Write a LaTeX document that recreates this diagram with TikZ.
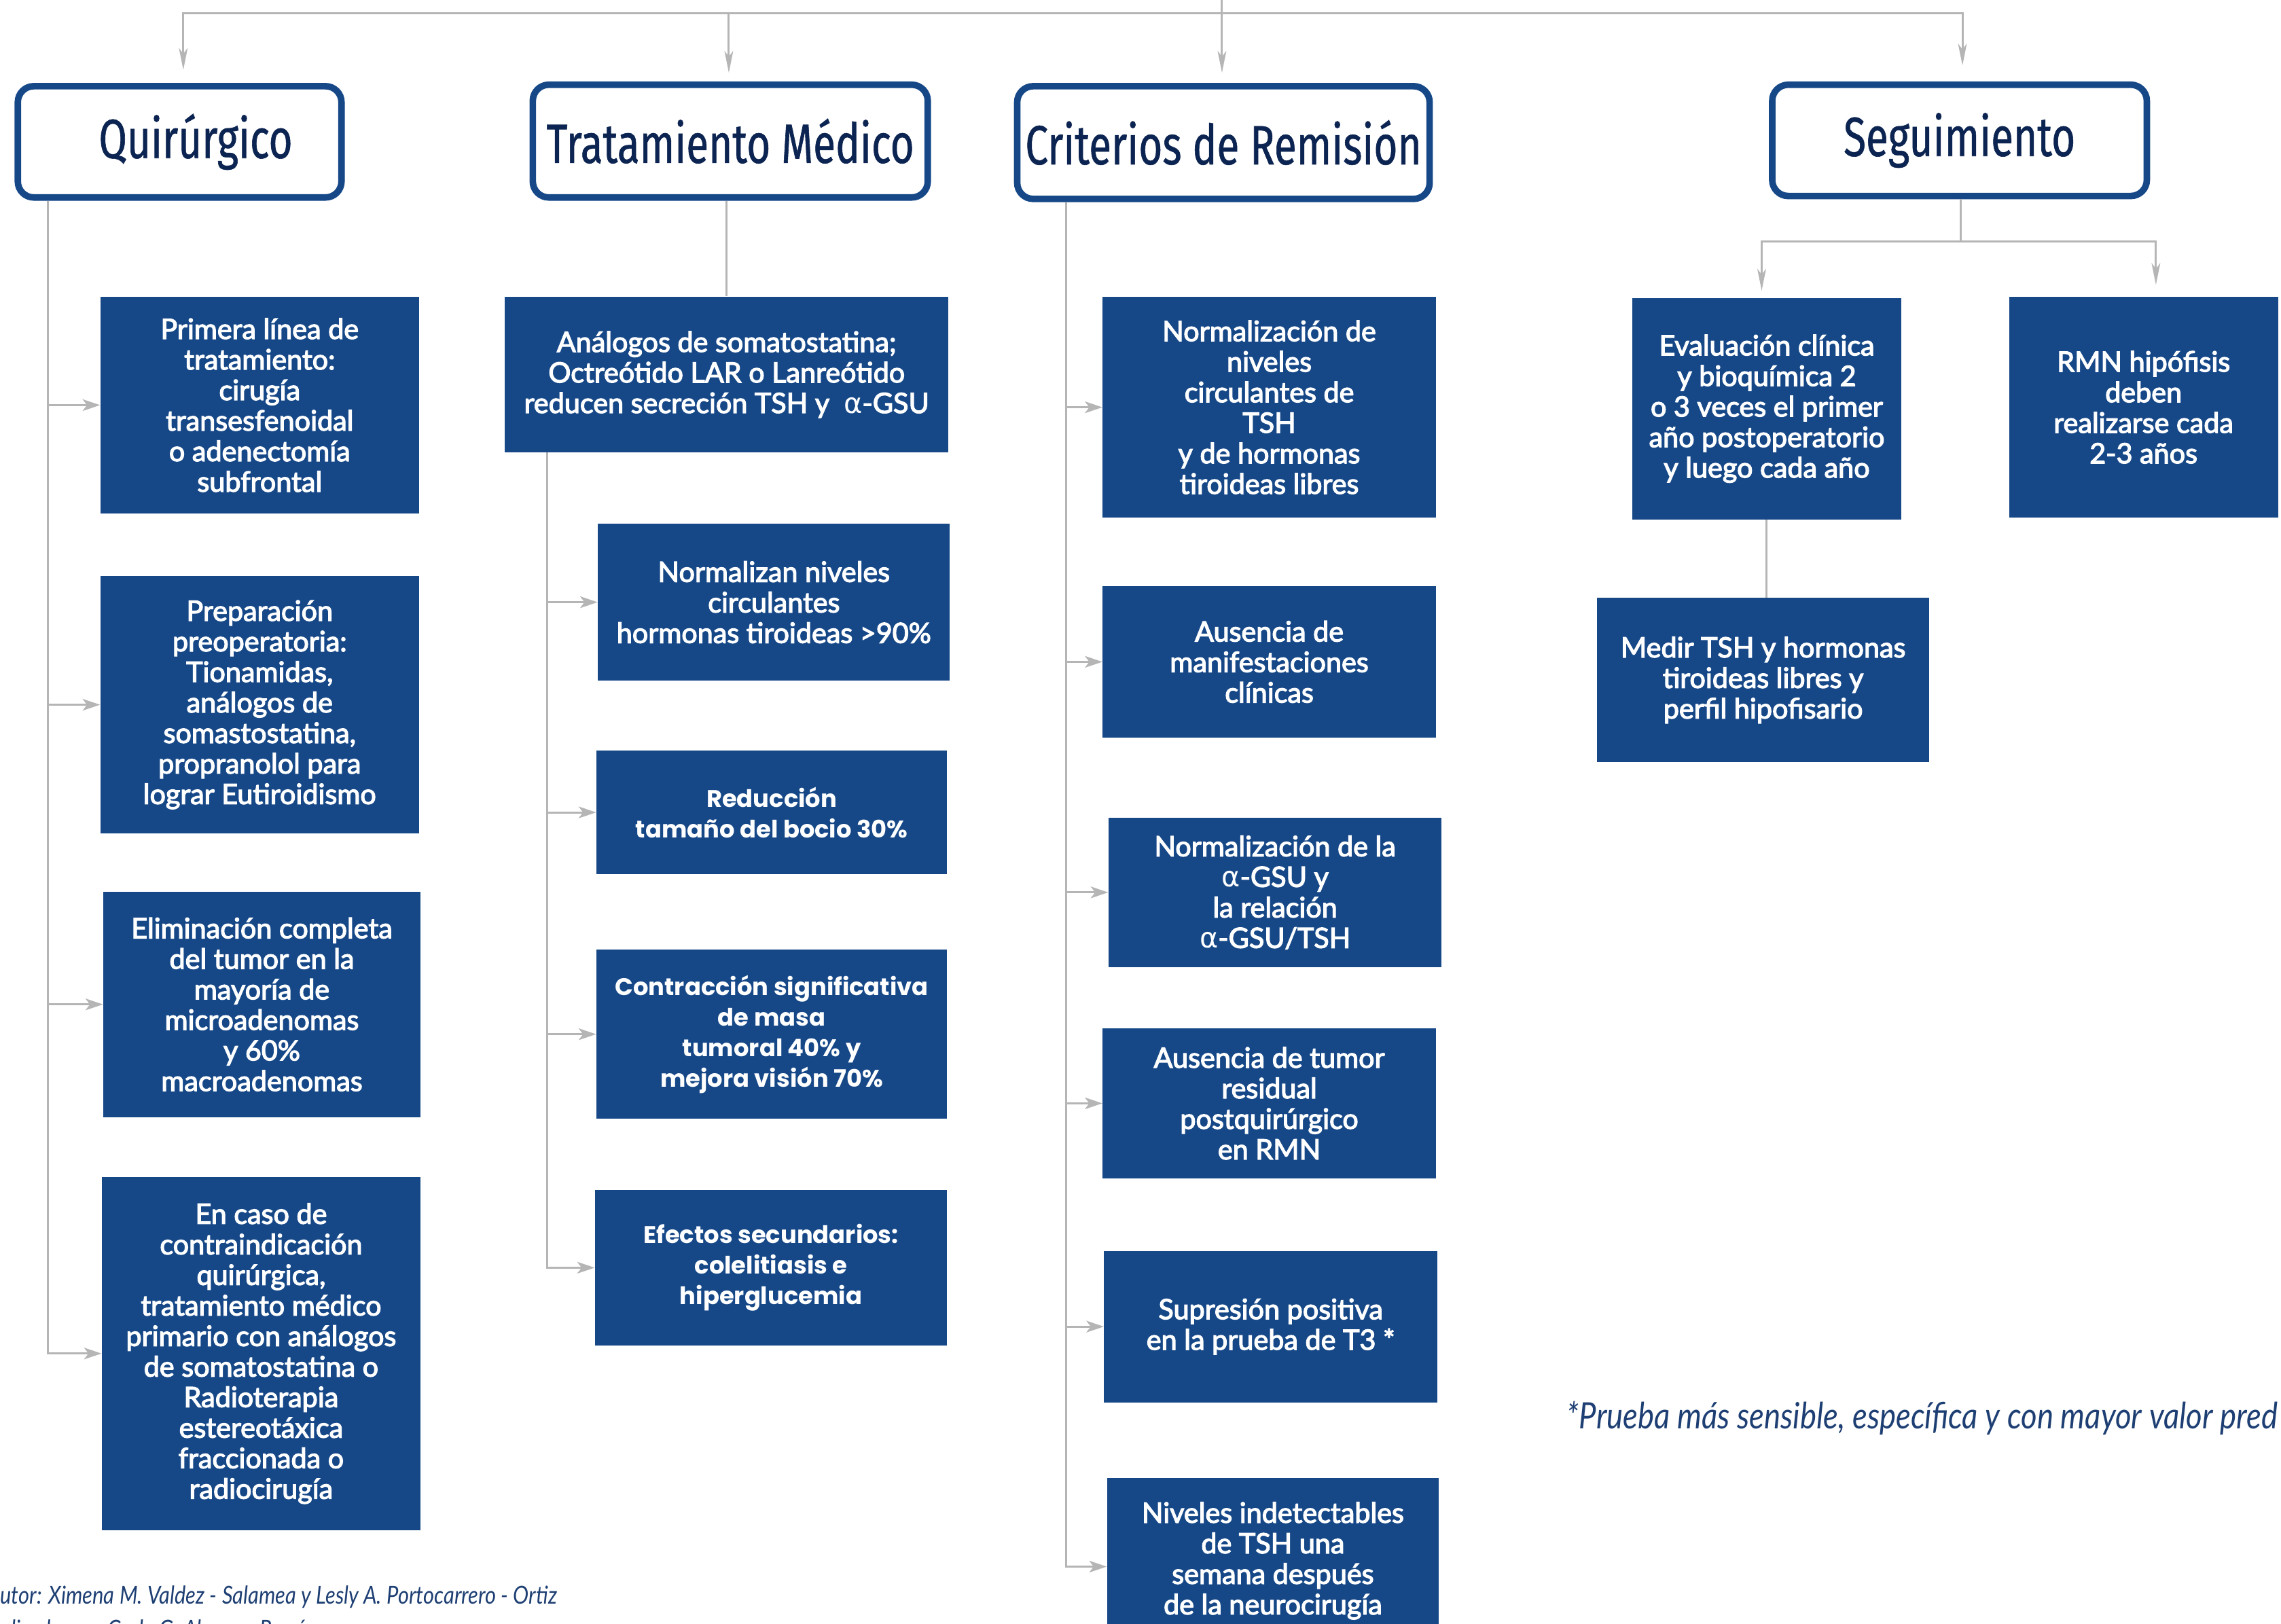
\documentclass[tikz,border=0pt]{standalone}
\usepackage{fontspec}
\usetikzlibrary{arrows.meta}
\setmainfont{Lato}
\newfontfamily\boxfont[FakeBold=3]{Lato}
\newfontfamily\headfont[FakeStretch=0.74,FakeBold=0.7]{Fira Sans}
\newfontfamily\wideboxfont{Poppins}
\newfontfamily\notefont[FakeStretch=0.85]{Lato}
\newfontfamily\greekfont{DejaVu Sans}
\definecolor{boxblue}{RGB}{22,72,136}
\definecolor{headtext}{RGB}{12,36,81}
\definecolor{conngray}{RGB}{181,181,181}
\definecolor{notecol}{RGB}{30,63,115}
\newcommand{\alf}{{\greekfont\mdseries α}}
\tikzset{
  header/.style={draw=boxblue, line width=4.5pt, rounded corners=11pt, fill=white,
    text=headtext, font=\headfont\fontsize{38pt}{42pt}\selectfont, inner sep=0pt},
  bluebox/.style={fill=boxblue, text=white, align=center, inner sep=0pt,
    font=\boxfont\fontsize{19.3pt}{21pt}\selectfont},
  widebox/.style={bluebox, font=\wideboxfont\bfseries\fontsize{16.5pt}{21pt}\selectfont},
  conn/.style={draw=conngray, line width=1.4pt},
  arr/.style={conn, -{Stealth[length=12pt,width=8pt,inset=3pt]}},
  toparr/.style={conn, -{Stealth[length=15pt,width=6pt,inset=4pt]}},
  note/.style={text=notecol, inner sep=0pt, anchor=west, font=\notefont\itshape}
}
\begin{document}
\begin{tikzpicture}[x=1pt,y=-1pt]
\useasboundingbox (0,0) rectangle (1568,1116);

% headers
\node[header, minimum width=222.5pt, minimum height=76.5pt] (quir) at (123.5,97.5) {\hspace*{22pt}Quirúrgico};
\node[header, minimum width=271.5pt, minimum height=77.5pt] (trat) at (502,97) {Tratamiento Médico};
\node[header, minimum width=283.5pt, minimum height=77.5pt] (crit) at (841,98) {Criterios de Remisión};
\node[header, minimum width=257.5pt, minimum height=76.5pt] (segu) at (1347,96.5) {Seguimiento};

% top connectors
\coordinate (root) at (840,-5);
\coordinate (bar) at (840,9);
\draw[conn] (root) -- (bar);
\draw[toparr, shorten >=9pt] (bar) -| ([xshift=2.5pt]quir.north);
\draw[toparr, shorten >=6pt] (bar) -| ([xshift=-1pt]trat.north);
\draw[toparr, shorten >=7pt] (bar) -| ([xshift=-1pt]crit.north);
\draw[toparr, shorten >=11pt] (bar) -| ([xshift=2pt]segu.north);

% Quirurgico column
\node[bluebox, minimum width=219pt, minimum height=149pt] (q1) at (178.5,278.5)
  {Primera línea de\\tratamiento:\\cirugía\\transesfenoidal\\o adenectomía\\subfrontal};
\node[bluebox, minimum width=219pt, minimum height=177pt] (q2) at (178.5,484.5)
  {Preparación\\preoperatoria:\\Tionamidas,\\análogos de\\somastostatina,\\propranolol para\\lograr Eutiroidismo};
\node[bluebox, minimum width=218pt, minimum height=155pt] (q3) at (180,690.5)
  {Eliminación completa\\del tumor en la\\mayoría de\\microadenomas\\y 60\%\\macroadenomas};
\node[bluebox, minimum width=219pt, minimum height=243pt] (q4) at (179.5,930.5)
  {En caso de\\contraindicación\\quirúrgica,\\tratamiento médico\\primario con análogos\\de somatostatina o\\Radioterapia\\estereotáxica\\fraccionada o\\radiocirugía};
\coordinate (qtrunk) at (33,138);
\foreach \b in {q1,q2,q3,q4} \draw[arr] (qtrunk) |- (\b.west);

% Tratamiento column
\node[bluebox, minimum width=305pt, minimum height=107pt] (t1) at (499.5,257.5)
  {Análogos de somatostatina;\\Octreótido LAR o Lanreótido\\reducen secreción TSH y \ \alf-GSU};
\draw[conn] (trat.south -| t1.north) -- (t1.north);
\node[bluebox, minimum width=242pt, minimum height=108pt] (t2) at (532,414)
  {Normalizan niveles\\circulantes\\hormonas tiroideas >90\%};
\node[widebox, minimum width=241pt, minimum height=85pt] (t3) at (530.5,558.5)
  {Reducción\\tamaño del bocio 30\%};
\node[widebox, minimum width=241pt, minimum height=116pt] (t4) at (530.5,711)
  {Contracción significativa\\de masa\\tumoral 40\% y\\mejora visión 70\%};
\node[widebox, minimum width=242pt, minimum height=107pt] (t5) at (530,871.5)
  {Efectos secundarios:\\colelitiasis e\\hiperglucemia};
\coordinate (ttrunk) at (376,311);
\foreach \b in {t2,t3,t4,t5} \draw[arr] (ttrunk) |- (\b.west);

% Criterios column
\node[bluebox, minimum width=229pt, minimum height=152pt] (c1) at (872.5,280)
  {Normalización de\\niveles\\circulantes de\\TSH\\y de hormonas\\tiroideas libres};
\node[bluebox, minimum width=229pt, minimum height=104pt] (c2) at (872.5,455)
  {Ausencia de\\manifestaciones\\clínicas};
\node[bluebox, minimum width=229pt, minimum height=103pt] (c3) at (876.5,613.5)
  {Normalización de la\\\alf-GSU y\\la relación\\\alf-GSU/TSH};
\node[bluebox, minimum width=229pt, minimum height=103pt] (c4) at (872.5,758.5)
  {Ausencia de tumor\\residual\\postquirúrgico\\en RMN};
\node[bluebox, minimum width=229pt, minimum height=104pt] (c5) at (873.5,912)
  {Supresión positiva\\en la prueba de T3 *};
\node[bluebox, minimum width=228pt, minimum height=114pt] (c6) at (875,1073)
  {Niveles indetectables\\de TSH una\\semana después\\de la neurocirugía};
\coordinate (ctrunk) at (733,139);
\foreach \b in {c1,c2,c3,c4,c5} \draw[arr] (ctrunk) |- (\b.west);
\draw[arr] (ctrunk) |- ([yshift=-4pt]c6.west);

% Seguimiento column
\node[bluebox, minimum width=185pt, minimum height=152pt] (s1) at (1214.5,281)
  {Evaluación clínica\\y bioquímica 2\\o 3 veces el primer\\año postoperatorio\\y luego cada año};
\node[bluebox, minimum width=185pt, minimum height=152pt] (s2) at (1473.5,280)
  {RMN hipófisis\\deben\\realizarse cada\\2-3 años};
\node[bluebox, minimum width=228pt, minimum height=113pt] (s3) at (1212,467.5)
  {Medir TSH y hormonas\\tiroideas libres y\\perfil hipofisario};
\coordinate (sfork) at (1348,166);
\draw[conn] (segu.south -| sfork) -- (sfork);
\draw[toparr, shorten >=5pt] (sfork) -| ([xshift=-3.5pt]s1.north);
\draw[toparr, shorten >=8pt] (sfork) -| ([xshift=8.5pt]s2.north);
\draw[conn] (s1.south) -- (s1.south |- s3.north);

% notes
\node[note, font=\notefont\itshape\fontsize{25pt}{28pt}\selectfont] (foot) at (1077,975)
  {*Prueba más sensible, específica y con mayor valor pred};
\node[note, font=\notefont\itshape\fontsize{17pt}{20pt}\selectfont] (autor) at (0,1098)
  {utor: Ximena M. Valdez - Salamea y Lesly A. Portocarrero - Ortiz};
\node[note, font=\notefont\itshape\fontsize{17pt}{20pt}\selectfont] (real) at (0,1121)
  {alizado por: Carla G. Alonso - Ramírez};
\end{tikzpicture}
\end{document}
